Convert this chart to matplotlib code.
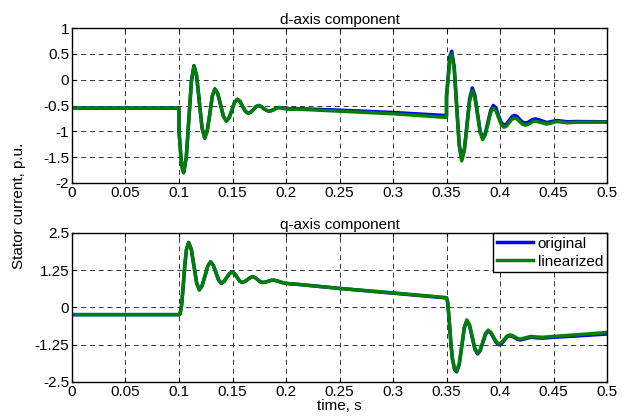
import matplotlib
matplotlib.use("Agg")
import matplotlib.pyplot as plt

plt.rcParams['font.family'] = ['Liberation Sans', 'DejaVu Sans']

# ---- d-axis stator current ----
t_d = [0.0, 0.1, 0.1, 0.102, 0.1035, 0.1044, 0.1068, 0.1092, 0.1116, 0.114,
       0.1165, 0.119, 0.1215, 0.124, 0.1264, 0.1288, 0.1311, 0.1335, 0.1362, 0.1389,
       0.1415, 0.1442, 0.1468, 0.1494, 0.1519, 0.1545, 0.157, 0.1595, 0.162, 0.1645,
       0.167, 0.1695, 0.172, 0.1745, 0.1768, 0.1792, 0.1815, 0.1838, 0.1862, 0.1887,
       0.1911, 0.1935, 0.2, 0.205, 0.21, 0.25, 0.3, 0.35, 0.35, 0.3515,
       0.353, 0.3548, 0.3572, 0.3595, 0.3618, 0.3642, 0.3667, 0.3692, 0.3716, 0.3741,
       0.3765, 0.379, 0.3814, 0.3838, 0.3862, 0.3887, 0.3912, 0.3937, 0.3962, 0.3987,
       0.4012, 0.4037, 0.406, 0.4085, 0.411, 0.4134, 0.4159, 0.4184, 0.4209, 0.4234,
       0.4258, 0.4282, 0.4306, 0.433, 0.4383, 0.4436, 0.4483, 0.453, 0.463, 0.47, 0.5]

d_linearized = [-0.55, -0.55, -1.0, -1.55, -1.76, -1.80, -1.50, -0.77, -0.03, 0.27,
                0.07, -0.43, -0.93, -1.13, -0.99, -0.66, -0.32, -0.18, -0.27, -0.49,
                -0.71, -0.80, -0.74, -0.59, -0.44, -0.38, -0.42, -0.52, -0.61, -0.65,
                -0.63, -0.58, -0.52, -0.50, -0.52, -0.56, -0.59, -0.61, -0.60, -0.58,
                -0.55, -0.54, -0.565, -0.575, -0.57, -0.61, -0.66, -0.73, -0.35, 0.0,
                0.38, 0.50, 0.20, -0.54, -1.27, -1.57, -1.37, -0.89, -0.41, -0.21,
                -0.35, -0.69, -1.02, -1.16, -1.07, -0.86, -0.64, -0.55, -0.60, -0.74,
                -0.87, -0.92, -0.90, -0.83, -0.77, -0.74, -0.76, -0.81, -0.86, -0.88,
                -0.87, -0.84, -0.81, -0.80, -0.83, -0.86, -0.835, -0.81, -0.835, -0.825, -0.82]

d_original = [-0.55, -0.55, -1.0, -1.55, -1.76, -1.80, -1.50, -0.77, -0.03, 0.27,
              0.07, -0.43, -0.93, -1.13, -0.99, -0.66, -0.32, -0.18, -0.27, -0.49,
              -0.71, -0.80, -0.74, -0.59, -0.44, -0.38, -0.42, -0.52, -0.61, -0.65,
              -0.63, -0.58, -0.52, -0.50, -0.52, -0.56, -0.59, -0.61, -0.60, -0.58,
              -0.55, -0.54, -0.555, -0.565, -0.56, -0.59, -0.635, -0.695, -0.30, 0.05,
              0.44, 0.55, 0.25, -0.50, -1.24, -1.55, -1.34, -0.85, -0.37, -0.16,
              -0.30, -0.65, -0.99, -1.13, -1.04, -0.82, -0.60, -0.50, -0.55, -0.70,
              -0.83, -0.88, -0.86, -0.79, -0.72, -0.69, -0.71, -0.77, -0.82, -0.84,
              -0.83, -0.80, -0.77, -0.76, -0.79, -0.83, -0.81, -0.79, -0.815, -0.81, -0.815]

# ---- q-axis stator current ----
t_q = [0.0, 0.1, 0.101, 0.1025, 0.104, 0.1055, 0.107, 0.109, 0.1115, 0.114,
       0.1165, 0.119, 0.1216, 0.1243, 0.1269, 0.1295, 0.132, 0.1345, 0.137, 0.1395,
       0.142, 0.1445, 0.147, 0.1495, 0.1519, 0.1543, 0.1566, 0.159, 0.1615, 0.164,
       0.1665, 0.169, 0.1712, 0.1735, 0.1757, 0.178, 0.1806, 0.1833, 0.1859, 0.1885,
       0.192, 0.196, 0.2, 0.205, 0.21, 0.25, 0.3, 0.35, 0.351, 0.3525,
       0.354, 0.3555, 0.3575, 0.3595, 0.3619, 0.3643, 0.3666, 0.369, 0.3715, 0.374,
       0.3765, 0.379, 0.3815, 0.384, 0.3865, 0.389, 0.3915, 0.394, 0.3965, 0.399,
       0.4015, 0.404, 0.4065, 0.409, 0.4115, 0.414, 0.4165, 0.419, 0.424, 0.429,
       0.4345, 0.44, 0.45, 0.47, 0.5]

q_linearized = [-0.24, -0.24, -0.22, 0.10, 0.75, 1.45, 1.95, 2.18, 1.95, 1.385,
                0.82, 0.59, 0.73, 1.06, 1.39, 1.53, 1.42, 1.17, 0.92, 0.81,
                0.87, 1.00, 1.13, 1.19, 1.14, 1.015, 0.89, 0.84, 0.87, 0.935,
                1.00, 1.03, 1.00, 0.935, 0.87, 0.84, 0.85, 0.88, 0.91, 0.92,
                0.89, 0.84, 0.81, 0.79, 0.78, 0.64, 0.49, 0.33, 0.20, -0.40,
                -1.15, -1.70, -2.05, -2.13, -1.88, -1.275, -0.67, -0.42, -0.58, -0.975,
                -1.37, -1.53, -1.42, -1.145, -0.87, -0.76, -0.83, -0.99, -1.15, -1.22,
                -1.18, -1.07, -0.96, -0.92, -0.94, -0.99, -1.04, -1.06, -1.015, -0.97,
                -0.99, -1.00, -0.97, -0.92, -0.84]

q_original = [-0.24, -0.24, -0.22, 0.10, 0.75, 1.45, 1.95, 2.18, 1.95, 1.385,
              0.82, 0.59, 0.73, 1.06, 1.39, 1.53, 1.42, 1.17, 0.92, 0.81,
              0.87, 1.00, 1.13, 1.19, 1.14, 1.015, 0.89, 0.84, 0.87, 0.935,
              1.00, 1.03, 1.00, 0.935, 0.87, 0.84, 0.85, 0.88, 0.91, 0.92,
              0.89, 0.84, 0.81, 0.79, 0.78, 0.64, 0.48, 0.32, 0.19, -0.42,
              -1.18, -1.73, -2.08, -2.16, -1.91, -1.30, -0.70, -0.45, -0.61, -1.00,
              -1.40, -1.56, -1.45, -1.17, -0.90, -0.79, -0.86, -1.02, -1.18, -1.25,
              -1.21, -1.10, -0.99, -0.95, -0.97, -1.02, -1.07, -1.09, -1.045, -1.00,
              -1.02, -1.03, -1.00, -0.96, -0.89]

x_ticks = [0, 0.05, 0.1, 0.15, 0.2, 0.25, 0.3, 0.35, 0.4, 0.45, 0.5]
x_tick_labels = ["0", "0.05", "0.1", "0.15", "0.2", "0.25", "0.3", "0.35", "0.4", "0.45", "0.5"]
d_ticks = [-2, -1.5, -1, -0.5, 0, 0.5, 1]
d_tick_labels = ["-2", "-1.5", "-1", "-0.5", "0", "0.5", "1"]
q_ticks = [-2.5, -1.25, 0, 1.25, 2.5]
q_tick_labels = ["-2.5", "-1.25", "0", "1.25", "2.5"]

BLUE = "#0000ff"
GREEN = "#008000"
FS = 11

fig = plt.figure(figsize=(6.31, 4.20), dpi=100)
ax_d = fig.add_axes([0.1141, 0.5643, 0.8479, 0.3690])
ax_q = fig.add_axes([0.1141, 0.0905, 0.8479, 0.3548])


def style(ax, yticks, ylabels, ylim, title):
    ax.set_xlim(0, 0.5)
    ax.set_ylim(*ylim)
    ax.set_xticks(x_ticks)
    ax.set_xticklabels(x_tick_labels, fontsize=FS)
    ax.set_yticks(yticks)
    ax.set_yticklabels(ylabels, fontsize=FS)
    ax.tick_params(direction="in", length=3, width=0.8, pad=2,
                   top=True, right=True)
    ax.grid(True, color="0.2", linestyle=(0, (5, 4)), linewidth=0.7)
    for sp in ax.spines.values():
        sp.set_linewidth(1.0)
        sp.set_color("black")
    ax.set_title(title, fontsize=FS, pad=3)


ax_d.plot(t_d, d_original, color=BLUE, lw=2.5, label="original")
ax_d.plot(t_d, d_linearized, color=GREEN, lw=2.5, label="linearized")
style(ax_d, d_ticks, d_tick_labels, (-2, 1), "d-axis component")

ax_q.plot(t_q, q_original, color=BLUE, lw=2.5, label="original")
ax_q.plot(t_q, q_linearized, color=GREEN, lw=2.5, label="linearized")
style(ax_q, q_ticks, q_tick_labels, (-2.5, 2.5), "q-axis component")
ax_q.set_xlabel("time, s", fontsize=FS, labelpad=0)

leg = ax_q.legend(loc="upper right", borderaxespad=0, fancybox=False,
                  framealpha=1, edgecolor="black", fontsize=FS,
                  handlelength=2.4, handletextpad=0.3, borderpad=0.25,
                  labelspacing=0.25)
leg.get_frame().set_linewidth(1.0)

fig.text(0.03, 0.51, "Stator current, p.u.", rotation=90, fontsize=FS,
         ha="center", va="center")

fig.savefig("out.png", dpi=100)
